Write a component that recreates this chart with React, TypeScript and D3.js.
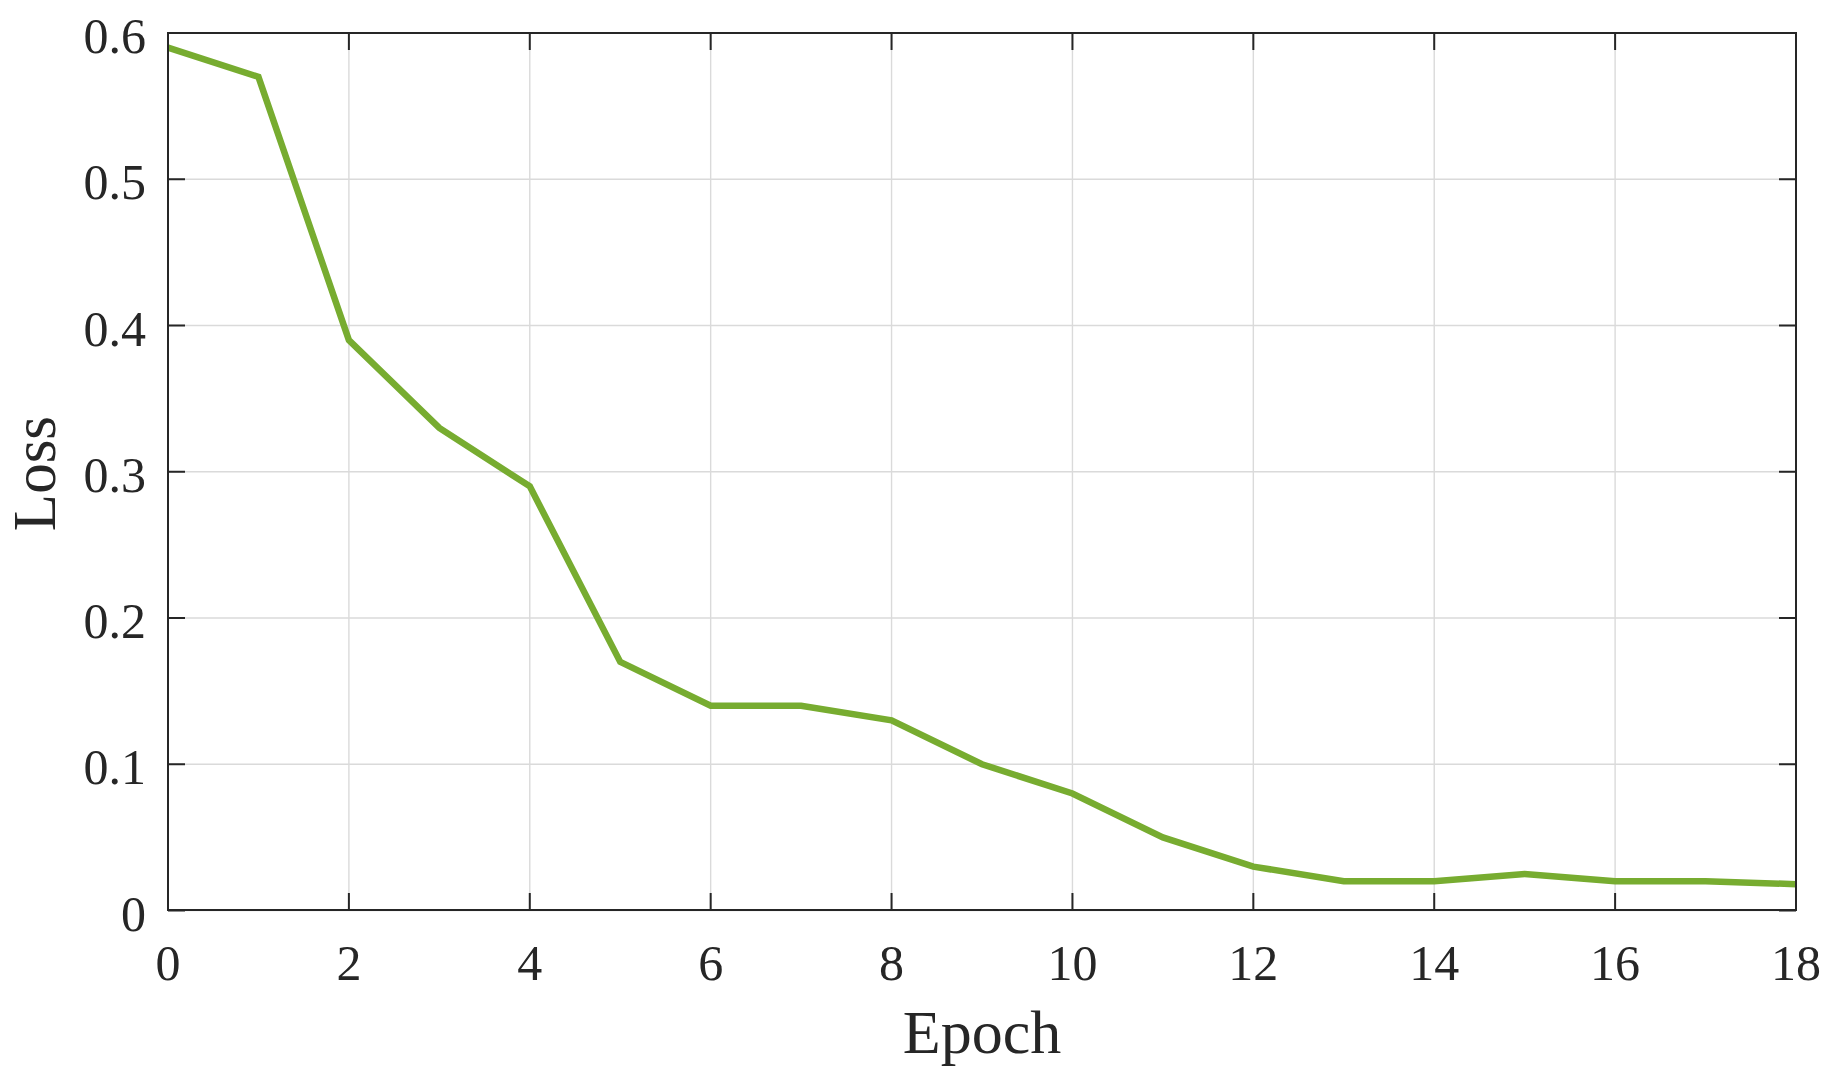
import React, { useRef, useEffect } from 'react';
import * as d3 from 'd3';

const EPOCHS = [0, 1, 2, 3, 4, 5, 6, 7, 8, 9, 10, 11, 12, 13, 14, 15, 16, 17, 18];
const LOSS = [0.59, 0.57, 0.39, 0.33, 0.29, 0.17, 0.14, 0.14, 0.13, 0.10, 0.08, 0.05, 0.03, 0.02, 0.02, 0.025, 0.02, 0.02, 0.018];
const X_TICKS = [0, 2, 4, 6, 8, 10, 12, 14, 16, 18];
const Y_TICKS = [0, 0.1, 0.2, 0.3, 0.4, 0.5, 0.6];

const W = 1840;
const H = 1082;
const M = { left: 168, right: 44, top: 33, bottom: 172 };
const FONT = '"Liberation Serif", "Times New Roman", serif';
const AXIS = '#262626';
const GRID = '#dadada';
const LINE = '#77ac30';
const TICK = 17;

const LossChart = () => {
    const svgRef = useRef<SVGSVGElement>(null);

    useEffect(() => {
        if (!svgRef.current) return;
        const svg = d3.select(svgRef.current);
        svg.selectAll('*').remove();

        const x0 = M.left, x1 = W - M.right;
        const y0 = H - M.bottom, y1 = M.top;

        const x = d3.scaleLinear().domain([0, 18]).range([x0, x1]);
        const y = d3.scaleLinear().domain([0, 0.6]).range([y0 + 0.5, y1]);

        // grid
        const grid = svg.append('g').attr('stroke', GRID).attr('stroke-width', 1.4);
        grid.selectAll('line.gx').data(X_TICKS).enter().append('line')
            .attr('x1', d => x(d)).attr('x2', d => x(d)).attr('y1', y1).attr('y2', y0);
        grid.selectAll('line.gy').data(Y_TICKS).enter().append('line')
            .attr('x1', x0).attr('x2', x1).attr('y1', d => y(d)).attr('y2', d => y(d));

        // data line
        const line = d3.line<number>()
            .x((_, i) => x(EPOCHS[i]))
            .y(d => y(d));
        svg.append('path')
            .attr('d', line(LOSS))
            .attr('fill', 'none')
            .attr('stroke', LINE)
            .attr('stroke-width', 6.5)
            .attr('stroke-linejoin', 'miter');

        // box + inward ticks on all four sides
        const ax = svg.append('g').attr('stroke', AXIS).attr('stroke-width', 2).attr('fill', 'none');
        ax.append('rect').attr('x', x0).attr('y', y1).attr('width', x1 - x0).attr('height', y0 - y1);
        X_TICKS.forEach(t => {
            ax.append('line').attr('x1', x(t)).attr('x2', x(t)).attr('y1', y0).attr('y2', y0 - TICK);
            ax.append('line').attr('x1', x(t)).attr('x2', x(t)).attr('y1', y1).attr('y2', y1 + TICK);
        });
        Y_TICKS.forEach(t => {
            ax.append('line').attr('x1', x0).attr('x2', x0 + TICK).attr('y1', y(t)).attr('y2', y(t));
            ax.append('line').attr('x1', x1).attr('x2', x1 - TICK).attr('y1', y(t)).attr('y2', y(t));
        });

        // tick labels
        const labels = svg.append('g').attr('font-family', FONT).attr('font-size', 50).attr('fill', AXIS);
        labels.selectAll('text.xt').data(X_TICKS).enter().append('text')
            .attr('x', d => x(d)).attr('y', y0 + 70)
            .attr('text-anchor', 'middle')
            .text(d => String(d));
        labels.selectAll('text.yt').data(Y_TICKS).enter().append('text')
            .attr('x', x0 - 22).attr('y', d => y(d) + 20)
            .attr('text-anchor', 'end')
            .text(d => (d === 0 ? '0' : d.toFixed(1)));

        // axis titles
        svg.append('text')
            .attr('x', (x0 + x1) / 2).attr('y', 1053)
            .attr('text-anchor', 'middle')
            .attr('font-family', FONT).attr('font-size', 62).attr('fill', AXIS)
            .text('Epoch');
        svg.append('text')
            .attr('transform', `translate(55,${(y0 + y1) / 2 + 2}) rotate(-90)`)
            .attr('text-anchor', 'middle')
            .attr('font-family', FONT).attr('font-size', 61).attr('fill', AXIS)
            .text('Loss');
    }, []);

    return (
        <svg
            ref={svgRef}
            width={W}
            height={H}
            style={{ position: 'absolute', left: 0, top: 0, background: '#fff' }}
        />
    );
};

export default function App() {
    return <LossChart />;
}
